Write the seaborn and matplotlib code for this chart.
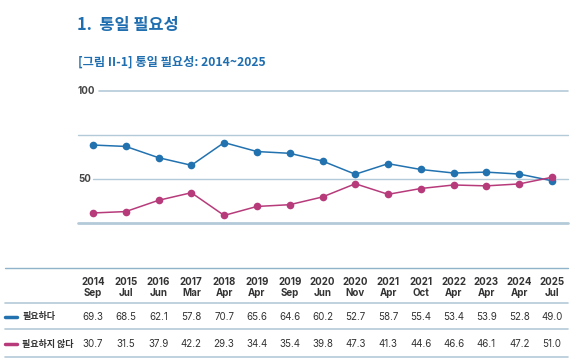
import matplotlib
matplotlib.use("Agg")
import matplotlib.pyplot as plt
import seaborn as sns
import pandas as pd

sns.set_theme(style="white")
plt.rcParams['font.family'] = ['Inter', 'Noto Sans CJK KR', 'DejaVu Sans']
KR = ['Noto Sans CJK KR', 'DejaVu Sans']

years = ["2014", "2015", "2016", "2017", "2018", "2019", "2019", "2020", "2020",
         "2021", "2021", "2022", "2023", "2024", "2025"]
months = ["Sep", "Jul", "Jun", "Mar", "Apr", "Apr", "Sep", "Jun", "Nov",
          "Apr", "Oct", "Apr", "Apr", "Apr", "Jul"]
need = [69.3, 68.5, 62.1, 57.8, 70.7, 65.6, 64.6, 60.2, 52.7, 58.7, 55.4, 53.4, 53.9, 52.8, 49.0]
not_need = [30.7, 31.5, 37.9, 42.2, 29.3, 34.4, 35.4, 39.8, 47.3, 41.3, 44.6, 46.6, 46.1, 47.2, 51.0]
series_names = ["필요하다", "필요하지 않다"]
y_ticks = [100, 50]

BLUE = "#2272b0"
PINK = "#b73b7b"
GRID = "#b3cad8"
TITLE = "#1f6eb0"

W, H = 580, 362
fig = plt.figure(figsize=(W / 100, H / 100), dpi=100)

def fx(px):
    return px / W

def fy(py):
    return 1 - py / H

# chart axes: x px 78..568, y px 91..223 (100..25)
ax = fig.add_axes([fx(78), fy(223), fx(568 - 78), (223 - 91) / H])
n = len(need)
df = pd.DataFrame({
    "idx": list(range(n)) * 2,
    "value": need + not_need,
    "series": [series_names[0]] * n + [series_names[1]] * n,
})
x0_px, x1_px = 93, 552
unit = (x1_px - x0_px) / (n - 1)
ax.set_xlim(-(x0_px - 78) / unit, (n - 1) + (568 - x1_px) / unit)
ax.set_ylim(25, 100)

# gridlines
span = 568 - 78
ax.axhline(100, xmin=(99 - 78) / span, xmax=1, color=GRID, lw=1.2, zorder=0, clip_on=False)
ax.axhline(75, xmin=0, xmax=1, color=GRID, lw=1.0, zorder=0)
ax.axhline(50, xmin=(93 - 78) / span, xmax=1, color=GRID, lw=1.0, zorder=0)
ax.axhline(25, xmin=0, xmax=1, color=GRID, lw=2.0, zorder=0, clip_on=False)

sns.lineplot(data=df, x="idx", y="value", hue="series",
             palette={series_names[0]: BLUE, series_names[1]: PINK},
             marker="o", markersize=5.5, markeredgewidth=0, linewidth=1.1,
             legend=False, ax=ax)
for line in ax.get_lines():
    line.set_clip_on(False)

for v in y_ticks:
    ax.text(-(x0_px - 78) / unit, v, str(v), ha="left", va="center",
            fontsize=7, color="#444444", fontweight="bold")

ax.set_axis_off()

# titles
fig.text(fx(77), fy(25), "1.  통일 필요성", fontsize=11.8, fontweight="bold",
         color=TITLE, ha="left", va="center", family=KR)
fig.text(fx(78), fy(62), "[그림 II-1] 통일 필요성: 2014~2025", fontsize=8.8,
         fontweight="bold", color=TITLE, ha="left", va="center", family=KR)

# table lines
for yy, c, lw in [(268, "#8fb3c8", 1.0), (303, GRID, 1.2), (329, GRID, 1.2), (357, GRID, 1.2)]:
    fig.add_artist(plt.Line2D([fx(5), fx(568)], [fy(yy), fy(yy)], color=c, lw=lw))

for i in range(n):
    xp = fx(x0_px + i * unit)
    fig.text(xp, fy(282), years[i], ha="center", va="center", fontsize=7,
             fontweight="bold", color="#333333")
    fig.text(xp, fy(293), months[i], ha="center", va="center", fontsize=7,
             fontweight="bold", color="#333333")
    fig.text(xp, fy(317), f"{need[i]:.1f}", ha="center", va="center", fontsize=7,
             color="#333333")
    fig.text(xp, fy(344), f"{not_need[i]:.1f}", ha="center", va="center", fontsize=7,
             color="#333333")

for yy, name, c in [(317, series_names[0], BLUE), (344, series_names[1], PINK)]:
    fig.add_artist(plt.Line2D([fx(5), fx(17)], [fy(yy), fy(yy)], color=c, lw=2.5))
    fig.text(fx(22), fy(yy), name, ha="left", va="center", fontsize=6.5,
             fontweight="bold", color="#333333", family=KR)

fig.savefig("out.png", dpi=100, facecolor="white")
